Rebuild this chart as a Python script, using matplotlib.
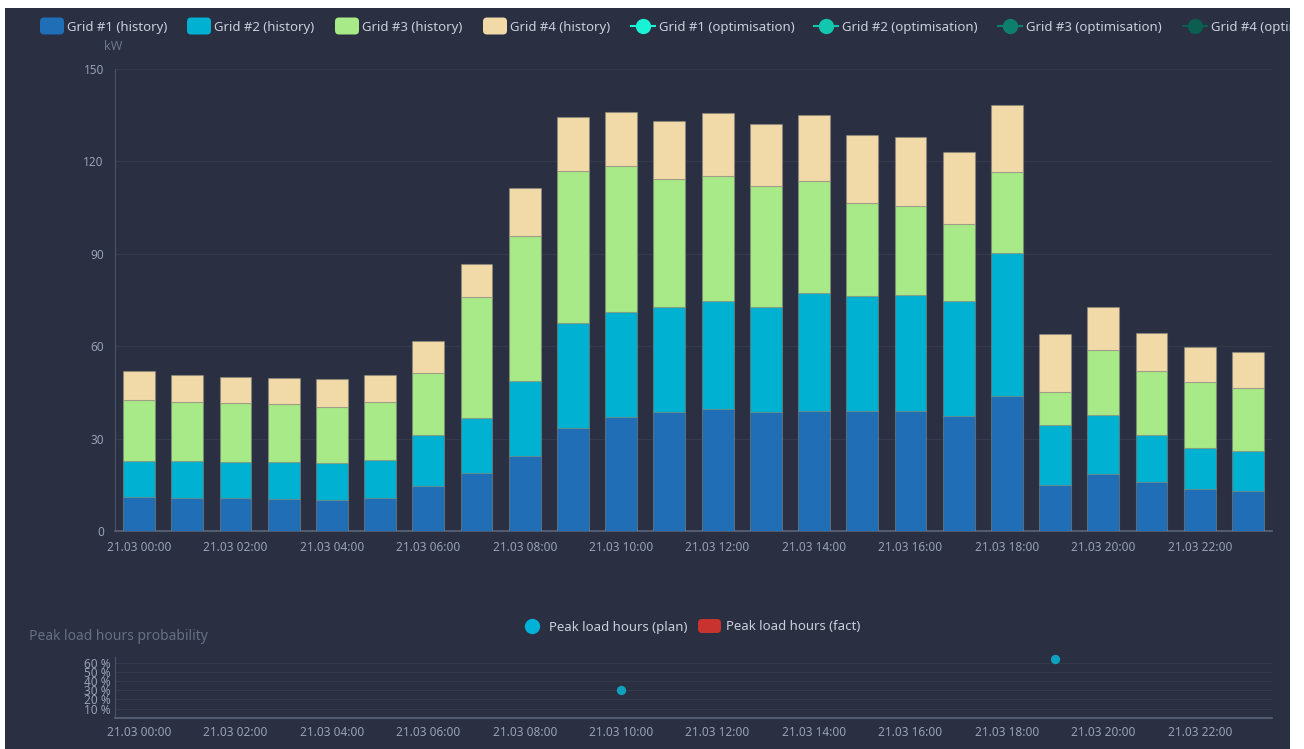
import matplotlib
matplotlib.use("Agg")
import matplotlib.pyplot as plt
from matplotlib.patches import FancyBboxPatch, Rectangle
from matplotlib.lines import Line2D
from matplotlib.transforms import IdentityTransform
from matplotlib.ticker import FuncFormatter
import numpy as np

plt.rcParams['font.family'] = ['Noto Sans', 'DejaVu Sans']

# ---------------- data ----------------
hours = [f"21.03 {h:02d}:00" for h in range(24)]
grid1_history = [11.0, 10.7, 10.6, 10.4, 10.0, 10.8, 14.6, 18.9, 24.3, 33.6, 37.0, 38.5,
                 39.6, 38.5, 39.0, 38.8, 38.8, 37.3, 43.7, 14.9, 18.5, 15.8, 13.7, 13.0]
grid2_history = [11.8, 12.0, 11.9, 12.0, 12.0, 12.4, 16.5, 17.9, 24.3, 33.9, 34.0, 34.2,
                 35.1, 34.2, 38.4, 37.5, 37.9, 37.3, 46.6, 19.6, 19.1, 15.3, 13.3, 13.0]
grid3_history = [19.8, 19.1, 19.0, 18.7, 18.4, 18.6, 20.1, 39.3, 47.3, 49.5, 47.4, 41.7,
                 40.6, 39.4, 36.1, 30.2, 28.7, 25.2, 26.3, 10.6, 21.1, 20.7, 21.3, 20.3]
grid4_history = [9.5, 8.7, 8.6, 8.7, 8.8, 8.7, 10.4, 10.5, 15.4, 17.4, 17.7, 18.7,
                 20.5, 20.0, 21.7, 22.1, 22.6, 23.3, 21.8, 19.0, 13.9, 12.6, 11.5, 11.7]
history_names = ["Grid #1 (history)", "Grid #2 (history)", "Grid #3 (history)", "Grid #4 (history)"]
optim_names = ["Grid #1 (optimisation)", "Grid #2 (optimisation)", "Grid #3 (optimisation)", "Grid #4 (optimisation)"]
peak_plan_hours = ["21.03 10:00", "21.03 19:00"]
peak_plan_prob = [0.30, 0.64]
y_ticks_kw = [0, 30, 60, 90, 120, 150]
y_ticks_prob = [0.1, 0.2, 0.3, 0.4, 0.5, 0.6]

# ---------------- style ----------------
W, H = 1304, 749
BG = "#2a3042"
hist_colors = ["#1f6eb6", "#00b1d2", "#a8e988", "#f2d9a8"]
opt_colors = ["#1af2d6", "#12c7ae", "#0e7f6d", "#0b5e50"]
TICK_C = "#98a1b6"
LEG_C = "#c9cfdc"
GRID_C = "#323a4e"
SPINE_C = "#5a6479"

fig = plt.figure(figsize=(W / 100, H / 100), dpi=100, facecolor="white")
fig.add_artist(Rectangle((5 / W, 0), (1290 - 5) / W, (H - 8) / H, transform=fig.transFigure,
                         facecolor=BG, edgecolor="none", zorder=-10))

def px_axes(l, t, r, b):
    return fig.add_axes([l / W, 1 - b / H, (r - l) / W, (b - t) / H])

x = np.arange(len(hours))

# ---------------- main chart ----------------
ax = px_axes(115, 69, 1272, 531)
ax.set_facecolor("none")
series = [grid1_history, grid2_history, grid3_history, grid4_history]
bottom = np.zeros(len(hours))
for vals, col in zip(series, hist_colors):
    vals = np.array(vals)
    ax.bar(x, vals, width=0.66, bottom=bottom, color=col,
           edgecolor=(0.55, 0.55, 0.5, 0.5), linewidth=0.8, zorder=3)
    bottom += vals
ax.set_xlim(-0.5, len(hours) - 0.5)
ax.set_ylim(0, 150)
ax.set_yticks(y_ticks_kw)
ax.set_xticks(x[::2])
ax.set_xticklabels(hours[::2])
ax.tick_params(axis="both", length=0, colors=TICK_C, labelsize=8.5)
ax.tick_params(axis="x", pad=7)
ax.tick_params(axis="y", pad=8)
ax.grid(axis="y", color=GRID_C, linewidth=0.9, zorder=0)
for s in ["top", "right"]:
    ax.spines[s].set_visible(False)
ax.spines["left"].set_color("#4a5367")
ax.spines["bottom"].set_color(SPINE_C)
ax.spines["bottom"].set_linewidth(1.2)
fig.text(113 / W, 1 - 47 / H, "kW", color="#6c758c", fontsize=9, ha="center", va="center")

# ---------------- probability chart ----------------
ax2 = px_axes(115, 656.7, 1272, 717.7)
ax2.set_facecolor("none")
idx = [hours.index(h) for h in peak_plan_hours]
ax2.scatter(idx, peak_plan_prob, s=45, color="#0ea2bf", zorder=3, linewidths=0, clip_on=False)
ax2.set_xlim(-0.5, len(hours) - 0.5)
ax2.set_ylim(0, 0.67)
ax2.set_yticks(y_ticks_prob)
ax2.yaxis.set_major_formatter(FuncFormatter(lambda v, p: f"{v * 100:.0f} %"))
ax2.set_xticks(x[::2])
ax2.set_xticklabels(hours[::2])
ax2.tick_params(axis="both", length=0, colors=TICK_C, labelsize=8.5)
ax2.tick_params(axis="x", pad=6)
ax2.tick_params(axis="y", pad=3)
ax2.grid(axis="y", color=GRID_C, linewidth=0.8, zorder=0)
for s in ["top", "right"]:
    ax2.spines[s].set_visible(False)
ax2.spines["left"].set_color("#4a5367")
ax2.spines["bottom"].set_color(SPINE_C)
ax2.spines["bottom"].set_linewidth(1.2)
fig.text(29 / W, 1 - 636 / H, "Peak load hours probability", color="#656e85", fontsize=10,
         ha="left", va="center")

# ---------------- legends (drawn in pixel coords) ----------------
ident = IdentityTransform()

def swatch(x0, yc, color, w=24, h=17):
    fig.add_artist(FancyBboxPatch((x0, H - yc - h / 2), w, h,
                                  boxstyle="round,pad=0,rounding_size=4",
                                  transform=ident, facecolor=color, edgecolor="none"))

def label(x0, yc, s):
    fig.text(x0 / W, 1 - yc / H, s, color=LEG_C, fontsize=9.5, ha="left", va="center")

yc = 27
for x0, name, col in zip([40, 187, 335, 483], history_names, hist_colors):
    swatch(x0, yc - 1, col)
    label(x0 + 27, yc, name)
for xc, name, col in zip([643, 826, 1010, 1195], optim_names, opt_colors):
    fig.add_artist(Line2D([xc - 12, xc + 12], [H - yc + 1, H - yc + 1], transform=ident,
                          color=col, linewidth=1.5))
    fig.add_artist(Line2D([xc], [H - yc + 1], transform=ident, marker="o", markersize=10,
                          color=col, linestyle="none"))
    label(xc + 16, yc, name)

# bottom legend
yb = 627
fig.add_artist(Line2D([532], [H - yb + 1], transform=ident, marker="o", markersize=10,
                      color="#00b2d8", linestyle="none"))
label(549, yb, "Peak load hours (plan)")
swatch(698, yb - 1, "#c8332f", w=23, h=14)
label(726, yb, "Peak load hours (fact)")

# white border clipping on the right
cover = Rectangle((1290 / W, 0), (W - 1290) / W, 1, transform=fig.transFigure,
                  facecolor="white", edgecolor="none", zorder=100)
fig.add_artist(cover)

fig.savefig("out.png", dpi=100, facecolor="white")
